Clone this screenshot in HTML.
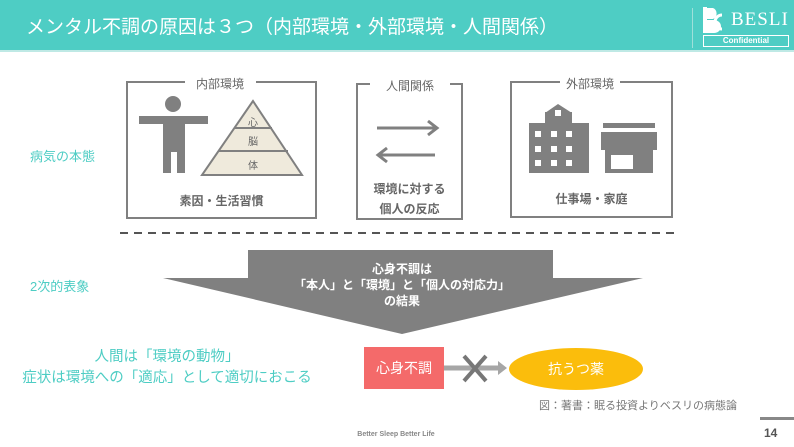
<!DOCTYPE html>
<html><head><meta charset="utf-8"><style>
body{margin:0;width:794px;height:447px;background:#fff;position:relative;overflow:hidden;font-family:"Liberation Sans","Noto Sans CJK JP",sans-serif}
.a{position:absolute;white-space:nowrap}
.t{color:#4ecdc4;font-size:13px}
.g{color:#666;font-weight:bold;font-size:12px}
</style></head><body>
<div class="a" style="left:0;top:0;width:794px;height:50px;background:#4ecdc4"></div>
<div class="a" style="left:0;top:50px;width:794px;height:2px;background:#bfe9e5"></div>
<div class="a" style="left:26px;top:12px;color:#fff;font-size:19px">メンタル不調の原因は３つ（内部環境・外部環境・人間関係）</div>
<div class="a" style="left:692px;top:8px;width:1px;height:40px;background:#9ee0da"></div>
<svg class="a" style="left:703px;top:7px" width="20" height="26"><rect x="0" y="0" width="4" height="26" fill="#fff"/><path d="M4 1H10A6 6 0 0 1 10 12H4Z M4 13H11A7 6.5 0 0 1 11 26H4Z" fill="#fff"/><path d="M19 8A7 7 0 0 0 19 22" stroke="#fff" stroke-width="3" fill="none"/></svg>
<div class="a" style="left:731px;top:9px;color:#fff;font-family:'Liberation Serif',serif;font-size:19px;letter-spacing:1px">BESLI</div>
<div class="a" style="left:703px;top:35px;width:84px;height:10px;border:1px solid #fff;color:#fff;font-size:8px;font-weight:bold;text-align:center;line-height:10px">Confidential</div>

<svg class="a" style="left:0;top:0" width="794" height="447">
<g fill="none" stroke="#808080" stroke-width="2">
<path d="M185 82H127V218H316V82H256"/>
<path d="M370 84H357V219H462V84H450"/>
<path d="M560 82H511V217H672V82H620"/>
</g>
<g fill="#808080">
<circle cx="173" cy="104" r="8"/>
<rect x="139" y="116" width="69" height="8"/>
<rect x="163" y="124" width="22" height="28"/>
<rect x="163" y="150" width="8" height="23"/>
<rect x="177" y="150" width="8" height="23"/>
</g>
<polygon points="253,101 202,175 302,175" fill="#efeadc" stroke="#808080" stroke-width="2"/>
<line x1="234" y1="128" x2="272" y2="128" stroke="#808080" stroke-width="2"/>
<line x1="218" y1="151" x2="288" y2="151" stroke="#808080" stroke-width="2"/>
<g font-size="10" fill="#666" text-anchor="middle"><text x="253" y="126">心</text><text x="253" y="145">脳</text><text x="253" y="169">体</text></g>
<g stroke="#808080" stroke-width="3" fill="none">
<line x1="377" y1="128" x2="436" y2="128"/><polyline points="428,121 437,128 428,135"/>
<line x1="380" y1="155" x2="435" y2="155"/><polyline points="387,148 378,155 387,162"/>
</g>
<g fill="#808080">
<rect x="529" y="123" width="60" height="50"/>
<rect x="545" y="112" width="27" height="12"/>
<polygon points="545,113 558,104 572,113"/>
<rect x="603" y="123" width="52" height="5"/>
<polygon points="601,132 657,132 657,150 601,150"/>
<rect x="605" y="150" width="48" height="23"/>
</g>
<g fill="#fff">
<rect x="555" y="110" width="6" height="6"/>
<rect x="535" y="131" width="6" height="6"/><rect x="551" y="131" width="6" height="6"/><rect x="566" y="131" width="6" height="6"/>
<rect x="535" y="146" width="6" height="6"/><rect x="551" y="146" width="6" height="6"/><rect x="566" y="146" width="6" height="6"/>
<rect x="535" y="160" width="6" height="6"/><rect x="551" y="160" width="6" height="6"/><rect x="566" y="160" width="6" height="6"/>
<rect x="611" y="155" width="22" height="14"/>
</g>
<line x1="120" y1="233" x2="680" y2="233" stroke="#555" stroke-width="2" stroke-dasharray="8,6"/>
<polygon points="248,250 553,250 553,278 643,278 402,334 163,278 248,278" fill="#808080"/>
<line x1="444" y1="368" x2="500" y2="368" stroke="#a6a6a6" stroke-width="5"/>
<polygon points="498,361 507,368 498,375" fill="#a6a6a6"/>
<g stroke="#777" stroke-width="4"><line x1="464" y1="356" x2="486" y2="381"/><line x1="486" y1="356" x2="464" y2="381"/></g>
<ellipse cx="576" cy="369" rx="67" ry="21" fill="#fbbd0c"/>
</svg>
<div class="a" style="left:364px;top:347px;width:80px;height:42px;background:#f46a6a"></div>
<div class="a" style="left:364px;top:358px;width:80px;text-align:center;color:#fff;font-size:14px">心身不調</div>
<div class="a" style="left:509px;top:359px;width:134px;text-align:center;color:#fff;font-size:14px">抗うつ薬</div>

<div class="a" style="left:180px;top:75px;width:80px;text-align:center;color:#666;font-size:12px">内部環境</div>
<div class="a" style="left:370px;top:77px;width:80px;text-align:center;color:#666;font-size:12px">人間関係</div>
<div class="a" style="left:550px;top:75px;width:80px;text-align:center;color:#666;font-size:12px">外部環境</div>
<div class="a g" style="left:127px;top:192px;width:189px;text-align:center">素因・生活習慣</div>
<div class="a g" style="left:357px;top:179px;width:105px;text-align:center;line-height:20px">環境に対する<br>個人の反応</div>
<div class="a g" style="left:511px;top:190px;width:161px;text-align:center">仕事場・家庭</div>
<div class="a t" style="left:30px;top:146px">病気の本態</div>
<div class="a t" style="left:30px;top:276px">2次的表象</div>
<div class="a" style="left:200px;top:261px;width:404px;text-align:center;color:#fff;font-weight:bold;font-size:12px;line-height:16px">心身不調は<br>「本人」と「環境」と「個人の対応力」<br>の結果</div>
<div class="a t" style="left:0;top:347px;width:334px;text-align:center;line-height:21px;font-size:14.5px">人間は「環境の動物」<br>症状は環境への「適応」として適切におこる</div>
<div class="a" style="left:539px;top:397px;color:#777;font-size:11px">図：著書：眠る投資よりベスリの病態論</div>
<div class="a" style="left:346px;top:431px;width:100px;text-align:center;color:#888;font-size:7px;font-weight:bold">Better Sleep Better Life</div>
<div class="a" style="left:760px;top:417px;width:34px;height:3px;background:#888"></div>
<div class="a" style="left:764px;top:426px;color:#555;font-size:12px;font-weight:bold">14</div>
</body></html>
